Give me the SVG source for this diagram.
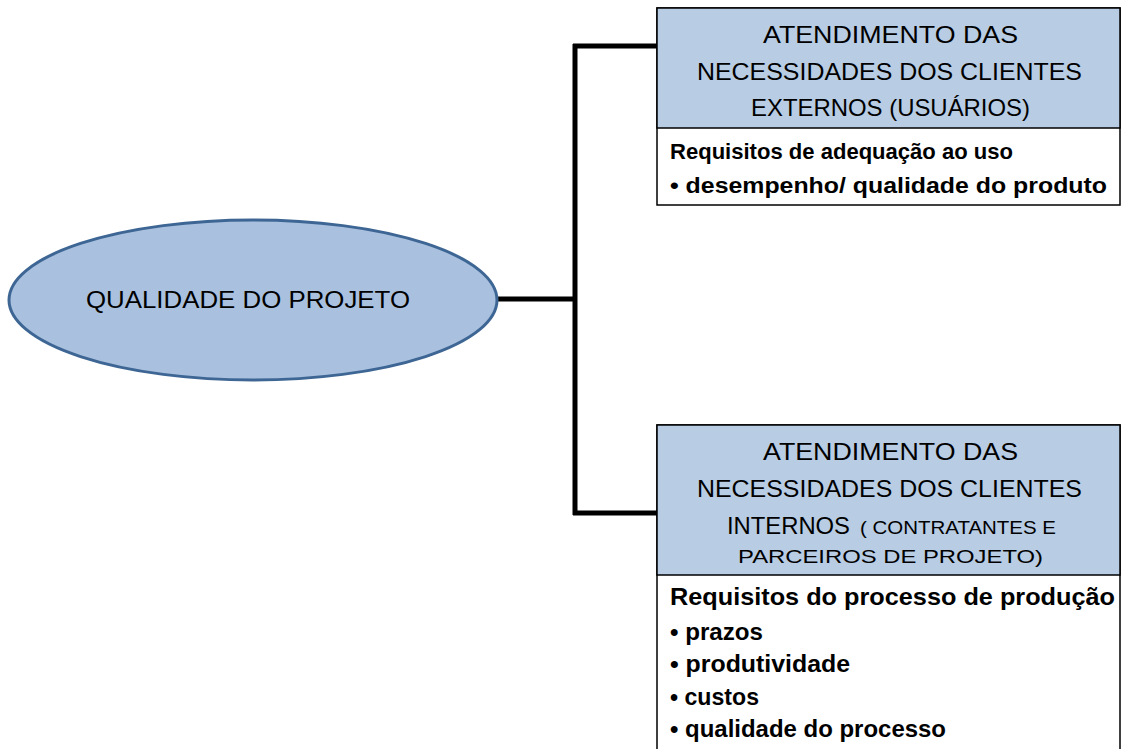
<svg xmlns="http://www.w3.org/2000/svg" width="1122" height="749" viewBox="0 0 1122 749">
  <style>
    .hdr { font-family: "Liberation Sans", Arial, sans-serif; font-size: 24px; fill: #000; }
    .sm { font-size: 19px; }
    .body { font-family: "Liberation Sans", Arial, sans-serif; font-size: 22px; font-weight: bold; fill: #000; }
    .big { font-size: 24px; }
    .band { fill: #b8cce4; stroke: #000; stroke-width: 1.5; }
    .panel { fill: #fff; stroke: #000; stroke-width: 1.5; }
    .wire { fill: none; stroke: #000; stroke-width: 5; }
  </style>
  <rect width="1122" height="749" fill="#fff"/>

  <g id="connectors">
    <path class="wire" d="M497 299 H575"/>
    <path class="wire" d="M575 44 V515"/>
    <path class="wire" d="M573 46 H657"/>
    <path class="wire" d="M573 513 H657"/>
  </g>

  <g id="qualidade-projeto">
    <ellipse cx="253" cy="300" rx="244" ry="80" fill="#a9c1df" stroke="#3e6694" stroke-width="3"/>
    <text class="hdr" x="86" y="308" font-size="25" textLength="324" lengthAdjust="spacingAndGlyphs">QUALIDADE DO PROJETO</text>
  </g>

  <g id="clientes-externos">
    <rect class="panel" x="657" y="8" width="463" height="197"/>
    <rect class="band" x="657" y="8" width="463" height="120"/>
    <text class="hdr" x="763" y="43" textLength="255" lengthAdjust="spacingAndGlyphs">ATENDIMENTO DAS</text>
    <text class="hdr" x="697" y="80" textLength="385" lengthAdjust="spacingAndGlyphs">NECESSIDADES DOS CLIENTES</text>
    <text class="hdr" x="751" y="116" textLength="279" lengthAdjust="spacingAndGlyphs">EXTERNOS (USUÁRIOS)</text>
    <text class="body" x="670" y="159" textLength="343" lengthAdjust="spacingAndGlyphs">Requisitos de adequação ao uso</text>
    <text class="body" x="670" y="193" textLength="437" lengthAdjust="spacingAndGlyphs">• desempenho/ qualidade do produto</text>
  </g>

  <g id="clientes-internos">
    <rect class="panel" x="657" y="425" width="463" height="330"/>
    <rect class="band" x="657" y="425" width="463" height="150"/>
    <text class="hdr" x="763" y="460" textLength="255" lengthAdjust="spacingAndGlyphs">ATENDIMENTO DAS</text>
    <text class="hdr" x="697" y="497" textLength="385" lengthAdjust="spacingAndGlyphs">NECESSIDADES DOS CLIENTES</text>
    <text class="hdr" x="727" y="534" textLength="123" lengthAdjust="spacingAndGlyphs">INTERNOS</text>
    <text class="hdr sm" x="860" y="534" textLength="196" lengthAdjust="spacingAndGlyphs">( CONTRATANTES E</text>
    <text class="hdr sm" x="738" y="563" textLength="305" lengthAdjust="spacingAndGlyphs">PARCEIROS DE PROJETO)</text>
    <text class="body big" x="670" y="605" textLength="445" lengthAdjust="spacingAndGlyphs">Requisitos do processo de produção</text>
    <text class="body big" x="670" y="640" textLength="93" lengthAdjust="spacingAndGlyphs">•  prazos</text>
    <text class="body big" x="670" y="672" textLength="180" lengthAdjust="spacingAndGlyphs">• produtividade</text>
    <text class="body big" x="670" y="705" textLength="89" lengthAdjust="spacingAndGlyphs">• custos</text>
    <text class="body big" x="670" y="737" textLength="276" lengthAdjust="spacingAndGlyphs">• qualidade do processo</text>
  </g>
</svg>
